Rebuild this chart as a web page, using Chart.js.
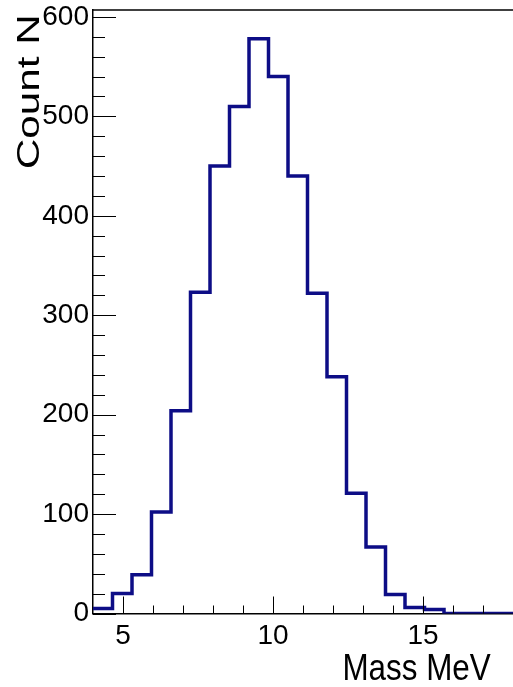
<!DOCTYPE html>
<html>
<head>
<meta charset="utf-8">
<script src="https://cdn.jsdelivr.net/npm/chart.js@4.4.1/dist/chart.umd.min.js"></script>
<style>
  html, body { margin: 0; padding: 0; background: #fff; overflow: hidden; }
  #wrap { width: 513px; height: 687px; position: relative; }
  canvas { display: block; }
</style>
</head>
<body>
<div id="wrap"><canvas id="c" width="513" height="687"></canvas></div>
<script>
// ---- data ----
const binEdges = [4.0, 4.65, 5.3, 5.95, 6.6, 7.25, 7.9, 8.55, 9.2, 9.85, 10.5,
                  11.15, 11.8, 12.45, 13.1, 13.75, 14.4, 15.05, 15.7, 16.35, 17.0, 17.65, 18.3];
const binCounts = [5, 20, 39, 102, 204, 323, 450, 510, 578, 540, 440,
                   322, 238, 121, 67, 19, 6, 4, 0, 0, 0, 0];
const xRange = [4, 18];
const yRange = [0, 607];
const xMajorTicks = [5, 10, 15];
const yTickLabels = [0, 100, 200, 300, 400, 500, 600];
const xTitle = 'Mass MeV';
const yTitle = 'Count N';

const xMinorStep = 1;
const yMinorStep = 20;

const points = binCounts.map((v, i) => ({ x: binEdges[i], y: v }));
points.push({ x: binEdges[binEdges.length - 1], y: binCounts[binCounts.length - 1] });

const FONT = '"Liberation Sans", Arial, Helvetica, sans-serif';

const rootFrame = {
  id: 'rootFrame',
  afterDatasetsDraw(chart) {
    const { ctx, chartArea: a, scales: { x, y } } = chart;
    ctx.save();
    ctx.strokeStyle = '#000';
    ctx.lineWidth = 1;
    // y ticks (inside frame)
    for (let v = yRange[0]; v <= yRange[1]; v += yMinorStep) {
      const py = Math.round(y.getPixelForValue(v)) + 0.5;
      const len = yTickLabels.includes(v) ? 23 : 12;
      ctx.beginPath(); ctx.moveTo(a.left, py); ctx.lineTo(a.left + len, py); ctx.stroke();
    }
    // x ticks (inside frame)
    for (let v = xRange[0] + xMinorStep; v <= xRange[1]; v += xMinorStep) {
      const px = Math.round(x.getPixelForValue(v)) + 0.5;
      const len = xMajorTicks.includes(v) ? 17 : 8;
      ctx.beginPath(); ctx.moveTo(px, a.bottom); ctx.lineTo(px, a.bottom - len); ctx.stroke();
    }
    // top frame line
    ctx.lineWidth = 1.5;
    ctx.beginPath(); ctx.moveTo(a.left, a.top); ctx.lineTo(a.right, a.top); ctx.stroke();
    ctx.restore();
  },
  afterDraw(chart) {
    const { ctx } = chart;
    ctx.save();
    ctx.fillStyle = '#000';
    ctx.textAlign = 'left';
    ctx.textBaseline = 'alphabetic';
    // x title
    ctx.font = '37px ' + FONT;
    let m = ctx.measureText(xTitle);
    let w = m.actualBoundingBoxLeft + m.actualBoundingBoxRight;
    ctx.save();
    ctx.translate(345, 680);
    ctx.scale(146 / w, 1);
    ctx.fillText(xTitle, m.actualBoundingBoxLeft, 0);
    ctx.restore();
    // y title (rotated)
    ctx.font = '32px ' + FONT;
    m = ctx.measureText(yTitle);
    w = m.actualBoundingBoxLeft + m.actualBoundingBoxRight;
    ctx.save();
    ctx.translate(39, 168);
    ctx.rotate(-Math.PI / 2);
    ctx.scale(151 / w, 1);
    ctx.fillText(yTitle, m.actualBoundingBoxLeft, 0);
    ctx.restore();
    ctx.restore();
  }
};

new Chart(document.getElementById('c'), {
  type: 'line',
  data: {
    datasets: [{
      data: points,
      stepped: true,
      borderColor: '#0d0d86',
      borderWidth: 3.5,
      pointRadius: 0,
      fill: false,
      tension: 0
    }]
  },
  options: {
    responsive: false,
    animation: false,
    devicePixelRatio: 1,
    layout: { padding: { top: 10, right: 0, left: 0, bottom: 0 } },
    plugins: { legend: { display: false }, tooltip: { enabled: false } },
    scales: {
      x: {
        type: 'linear',
        min: xRange[0], max: xRange[1],
        grid: { display: false, drawTicks: false },
        border: { display: true, color: '#000', width: 1.5 },
        ticks: {
          autoSkip: false, maxRotation: 0,
          padding: 6, color: '#000', font: { family: FONT, size: 28 },
          callback: v => String(v)
        },
        afterBuildTicks(s) { s.ticks = xMajorTicks.map(v => ({ value: v })); },
        afterFit(s) { s.height = 73.5; s.paddingLeft = 0; s.paddingRight = 0; }
      },
      y: {
        type: 'linear',
        min: yRange[0], max: yRange[1],
        grid: { display: false, drawTicks: false },
        border: { display: true, color: '#000', width: 1.5 },
        ticks: {
          autoSkip: false, padding: 4, color: '#000',
          font: { family: FONT, size: 28 },
          callback: v => String(v)
        },
        afterBuildTicks(s) { s.ticks = yTickLabels.map(v => ({ value: v })); },
        afterFit(s) { s.width = 93; s.paddingTop = 0; s.paddingBottom = 0; }
      }
    }
  },
  plugins: [rootFrame]
});
</script>
</body>
</html>
